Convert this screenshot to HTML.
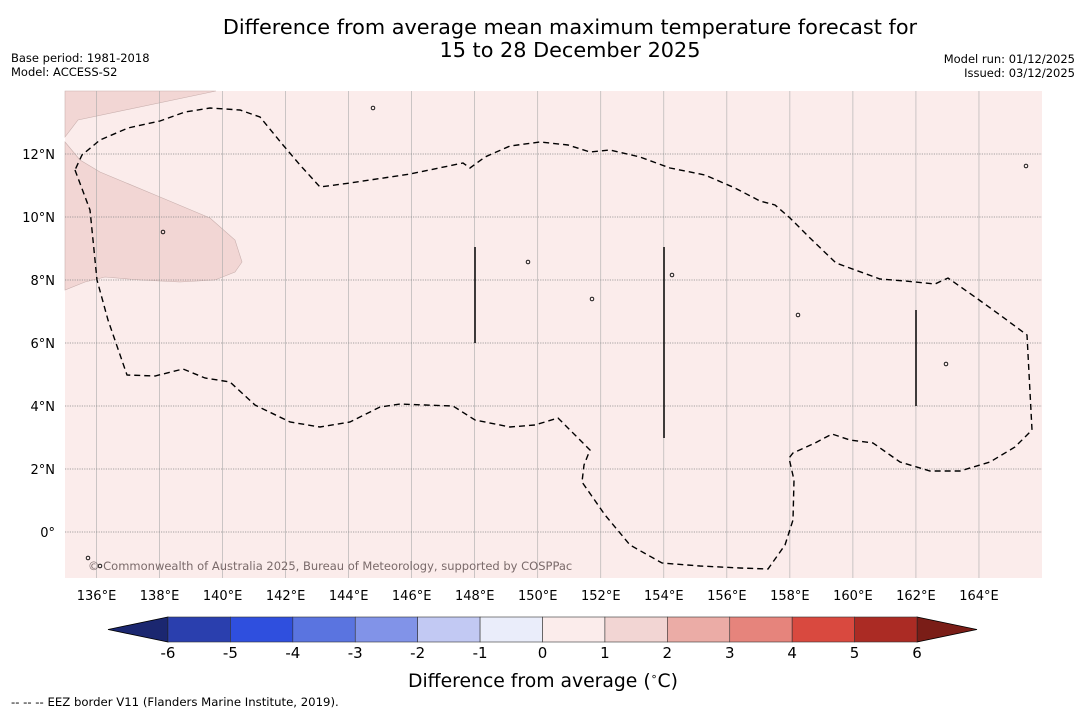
<!DOCTYPE html>
<html><head><meta charset="utf-8"><style>
body{margin:0;background:#fff;font-family:"DejaVu Sans","Liberation Sans",sans-serif}
svg{display:block}
</style></head><body>
<svg id="c" width="1085" height="713" xmlns="http://www.w3.org/2000/svg" font-family="DejaVu Sans, Liberation Sans, sans-serif">
<rect width="1085" height="713" fill="#fff"/>
<text x="570" y="34" font-size="20.8" text-anchor="middle">Difference from average mean maximum temperature forecast for</text>
<text x="570" y="57" font-size="20.8" text-anchor="middle">15 to 28 December 2025</text>
<text x="11" y="62" font-size="11.5">Base period: 1981-2018</text>
<text x="11" y="76" font-size="11.5">Model: ACCESS-S2</text>
<text x="1075" y="63" font-size="11.5" text-anchor="end">Model run: 01/12/2025</text>
<text x="1075" y="77" font-size="11.5" text-anchor="end">Issued: 03/12/2025</text>
<g id="map"></g>
<g id="cb"></g>
<text x="543" y="687" font-size="18.8" text-anchor="middle">Difference from average (<tspan font-size="11" dy="-7">∘</tspan><tspan dy="7">C)</tspan></text>
<text x="11" y="706" font-size="11.7">--  --  -- EEZ border V11 (Flanders Marine Institute, 2019).</text>
</svg>
<script>
const lonTicks=[136,138,140,142,144,146,148,150,152,154,156,158,160,162,164];
const latTicks=[12,10,8,6,4,2,0];
const cbLevels=[-6,-5,-4,-3,-2,-1,0,1,2,3,4,5,6];
const cbColors=["#2a3fae","#2f4fde","#5a74e0","#8193e8","#c2c9f3","#eaedfa","#fbeceb","#f2d5d3","#ebaca6","#e6847c","#d9493f","#ab2b24"];
const bgColor="#fbeceb";
const NS="http://www.w3.org/2000/svg";
const X0=65,X1=1042,Y0=91,Y1=578,LON0=135,LON1=166,LAT0=14,LAT1=-1.46;
const xs=lon=>X0+(lon-LON0)/(LON1-LON0)*(X1-X0);
const ys=lat=>Y0+(LAT0-lat)/(LAT0-LAT1)*(Y1-Y0);
function mk(t,a,p){const e=document.createElementNS(NS,t);for(const k in a)e.setAttribute(k,a[k]);p.appendChild(e);return e;}
const map=document.getElementById('map');
mk('rect',{x:X0,y:Y0,width:X1-X0,height:Y1-Y0,fill:bgColor},map);
const dark1=[[65,137],[78,120],[216,91],[65,91]];
const dark2=[[65,142],[80,160],[100,172],[160,197],[210,218],[235,240],[242,262],[235,272],[215,280],[180,282],[140,280],[105,277],[85,282],[65,290]];
[dark1,dark2].forEach((p,i)=>{const e=mk('polygon',{points:p.map(q=>q.join(',')).join(' '),fill:"#f2d6d4",stroke:"#c9b0ae","stroke-width":0.6},map);

});
lonTicks.forEach(l=>{const x=xs(l);
const g=mk('line',{x1:x,x2:x,y1:Y0,y2:Y1,stroke:"#aaa","stroke-width":0.6},map);


const t=mk('text',{x:x,y:600,"font-size":13,"text-anchor":"middle"},map);t.textContent=l+"°E";

});
latTicks.forEach(l=>{const y=ys(l);
const g=mk('line',{x1:X0,x2:X1,y1:y,y2:y,stroke:"#888","stroke-width":0.8,"stroke-dasharray":"1.2,1.2"},map);


const t=mk('text',{x:55,y:y+5,"font-size":13,"text-anchor":"end"},map);t.textContent=l===0?"0°":l+"°N";

});
const eez=[[75,170],[90,210],[97,280],[108,320],[127,375],[155,376],[183,369],[205,378],[230,382],[255,405],[290,422],[320,427],[350,422],[380,407],[400,404],[425,405],[453,406],[475,420],[510,427],[535,425],[558,418],[575,435],[590,450],[584,465],[582,482],[605,515],[630,545],[662,563],[700,566],[740,568],[768,569],[785,545],[793,520],[794,480],[789,458],[793,453],[815,443],[832,434],[850,440],[873,443],[900,462],[930,471],[960,471],[990,462],[1015,447],[1032,430],[1027,335],[1000,315],[975,297],[948,278],[935,284],[905,281],[880,279],[836,263],[810,238],[790,218],[775,205],[760,201],[735,188],[705,175],[670,168],[640,157],[610,150],[590,152],[568,145],[540,142],[510,146],[485,157],[470,168],[463,163],[410,174],[350,183],[320,187],[300,165],[283,145],[260,117],[240,110],[210,108],[185,112],[160,121],[128,128],[100,140],[82,155],[75,170]];
const ez=mk('polyline',{points:eez.map(q=>q.join(',')).join(' '),fill:"none",stroke:"#000","stroke-width":1.4,"stroke-dasharray":"6,4"},map);


[[475,247,343],[664,247,438],[916,310,406]].forEach(v=>{const e=mk('line',{x1:v[0],x2:v[0],y1:v[1],y2:v[2],stroke:"#000","stroke-width":1.5},map);

});
[[163,232],[373,108],[798,315],[946,364],[592,299],[88,558],[100,566],[672,275],[528,262],[1026,166]].forEach(p=>{const e=mk('circle',{cx:p[0],cy:p[1],r:1.8,fill:"none",stroke:"#000","stroke-width":0.9},map);

});
const cp=mk('text',{x:88,y:570,"font-size":11.5,fill:"#7a6a6a"},map);cp.textContent="© Commonwealth of Australia 2025, Bureau of Meteorology, supported by COSPPac";


const cb=document.getElementById('cb');
const CX0=168,CX1=917,CY0=617,CY1=642;
const cx=v=>CX0+(v-cbLevels[0])/(cbLevels[cbLevels.length-1]-cbLevels[0])*(CX1-CX0);
const l=mk('polygon',{points:`108,629.5 ${CX0},${CY0} ${CX0},${CY1}`,fill:"#1b2770",stroke:"#000","stroke-width":0.8},cb);


const r=mk('polygon',{points:`977,629.5 ${CX1},${CY0} ${CX1},${CY1}`,fill:"#7a1d17",stroke:"#000","stroke-width":0.8},cb);


cbColors.forEach((c,i)=>{const a=cx(cbLevels[i]),b=cx(cbLevels[i+1]);
const e=mk('rect',{x:a,y:CY0,width:b-a,height:CY1-CY0,fill:c,stroke:"#333","stroke-width":0.6},cb);

});
cbLevels.forEach(v=>{const t=mk('text',{x:cx(v),y:658,"font-size":15,"text-anchor":"middle"},cb);t.textContent=v;

});
</script>
</body></html>
